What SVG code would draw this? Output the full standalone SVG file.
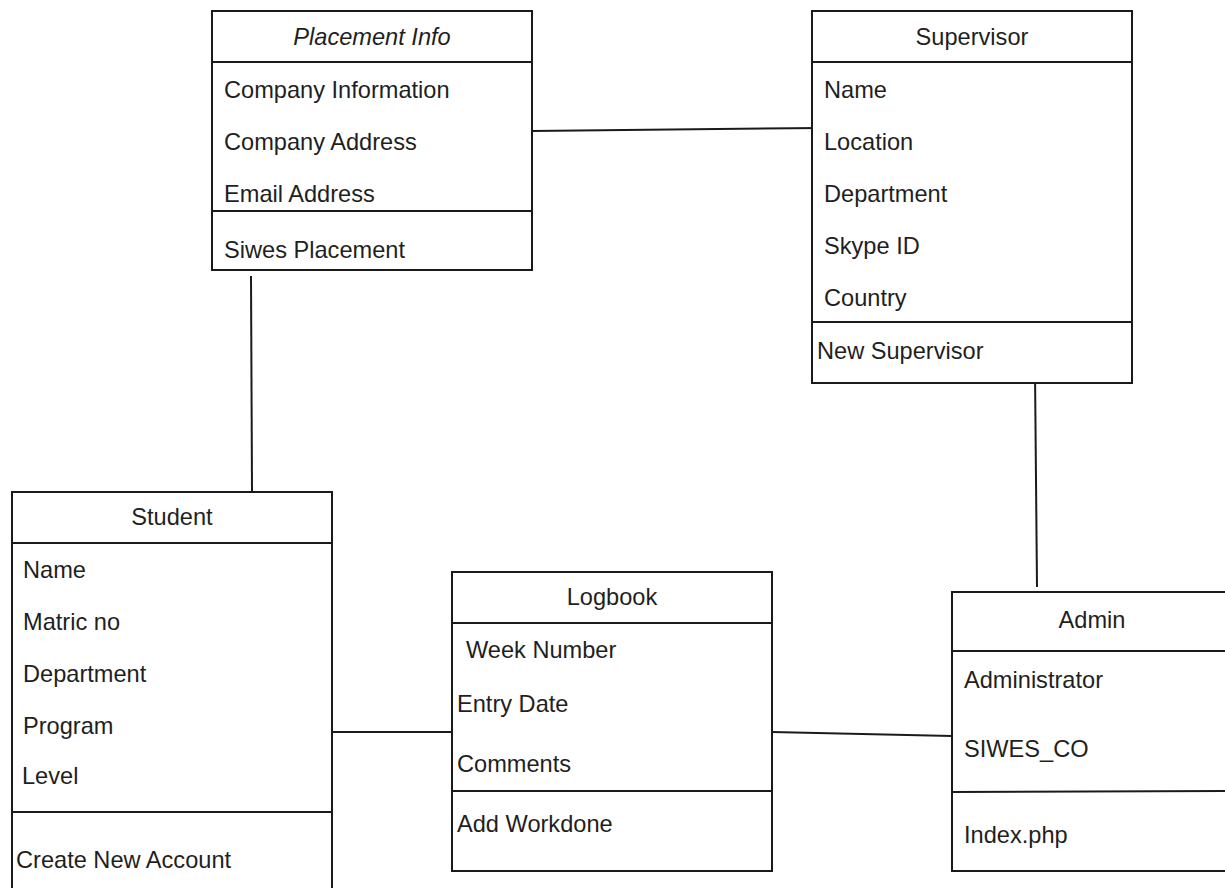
<svg xmlns="http://www.w3.org/2000/svg" width="1225" height="888" viewBox="0 0 1225 888">
  <style>
    .box { fill: #ffffff; stroke: #1a1a1a; stroke-width: 2; }
    .sep { stroke: #1a1a1a; stroke-width: 2; fill: none; }
    .link { stroke: #1a1a1a; stroke-width: 2; fill: none; }
    text { font-family: "Liberation Sans", Arial, sans-serif; font-size: 23.6px; fill: #1f1f1f; }
    .title { text-anchor: middle; }
    .italic { font-style: italic; }
  </style>
  <rect width="1225" height="888" fill="#ffffff"/>

  <!-- associations -->
  <g id="connectors">
    <line class="link" x1="532" y1="131" x2="822" y2="128"/>
    <line class="link" x1="251" y1="276" x2="252" y2="492"/>
    <line class="link" x1="1035" y1="372" x2="1037" y2="587"/>
    <line class="link" x1="332" y1="732" x2="452" y2="732"/>
    <line class="link" x1="772" y1="732" x2="952" y2="736"/>
  </g>

  <g id="placement-info">
    <rect class="box" x="212" y="11" width="320" height="259"/>
    <line class="sep" x1="212" y1="62" x2="532" y2="62"/>
    <line class="sep" x1="212" y1="211" x2="532" y2="211"/>
    <text class="title italic" x="372" y="45">Placement Info</text>
    <text x="224" y="98">Company Information</text>
    <text x="224" y="150">Company Address</text>
    <text x="224" y="202">Email Address</text>
    <text x="224" y="258">Siwes Placement</text>
  </g>

  <g id="supervisor">
    <rect class="box" x="812" y="11" width="320" height="372"/>
    <line class="sep" x1="812" y1="62" x2="1132" y2="62"/>
    <line class="sep" x1="812" y1="322" x2="1132" y2="322"/>
    <text class="title" x="972" y="45">Supervisor</text>
    <text x="824" y="98">Name</text>
    <text x="824" y="150">Location</text>
    <text x="824" y="202">Department</text>
    <text x="824" y="254">Skype ID</text>
    <text x="824" y="306">Country</text>
    <text x="817" y="359">New Supervisor</text>
  </g>

  <g id="student">
    <rect class="box" x="12" y="492" width="320" height="420"/>
    <line class="sep" x1="12" y1="543" x2="332" y2="543"/>
    <line class="sep" x1="12" y1="812" x2="332" y2="812"/>
    <text class="title" x="172" y="525">Student</text>
    <text x="23" y="578">Name</text>
    <text x="23" y="630">Matric no</text>
    <text x="23" y="682">Department</text>
    <text x="23" y="734">Program</text>
    <text x="22" y="784">Level</text>
    <text x="16" y="868">Create New Account</text>
  </g>

  <g id="logbook">
    <rect class="box" x="452" y="572" width="320" height="299"/>
    <line class="sep" x1="452" y1="623" x2="772" y2="623"/>
    <line class="sep" x1="452" y1="791" x2="772" y2="791"/>
    <text class="title" x="612" y="605">Logbook</text>
    <text x="466" y="658">Week Number</text>
    <text x="457" y="712">Entry Date</text>
    <text x="457" y="772">Comments</text>
    <text x="457" y="832">Add Workdone</text>
  </g>

  <g id="admin">
    <rect class="box" x="952" y="592" width="280" height="279"/>
    <line class="sep" x1="952" y1="651" x2="1232" y2="651"/>
    <line class="sep" x1="952" y1="792" x2="1232" y2="791"/>
    <text class="title" x="1092" y="628">Admin</text>
    <text x="964" y="688">Administrator</text>
    <text x="964" y="757">SIWES_CO</text>
    <text x="964" y="843">Index.php</text>
  </g>
</svg>
